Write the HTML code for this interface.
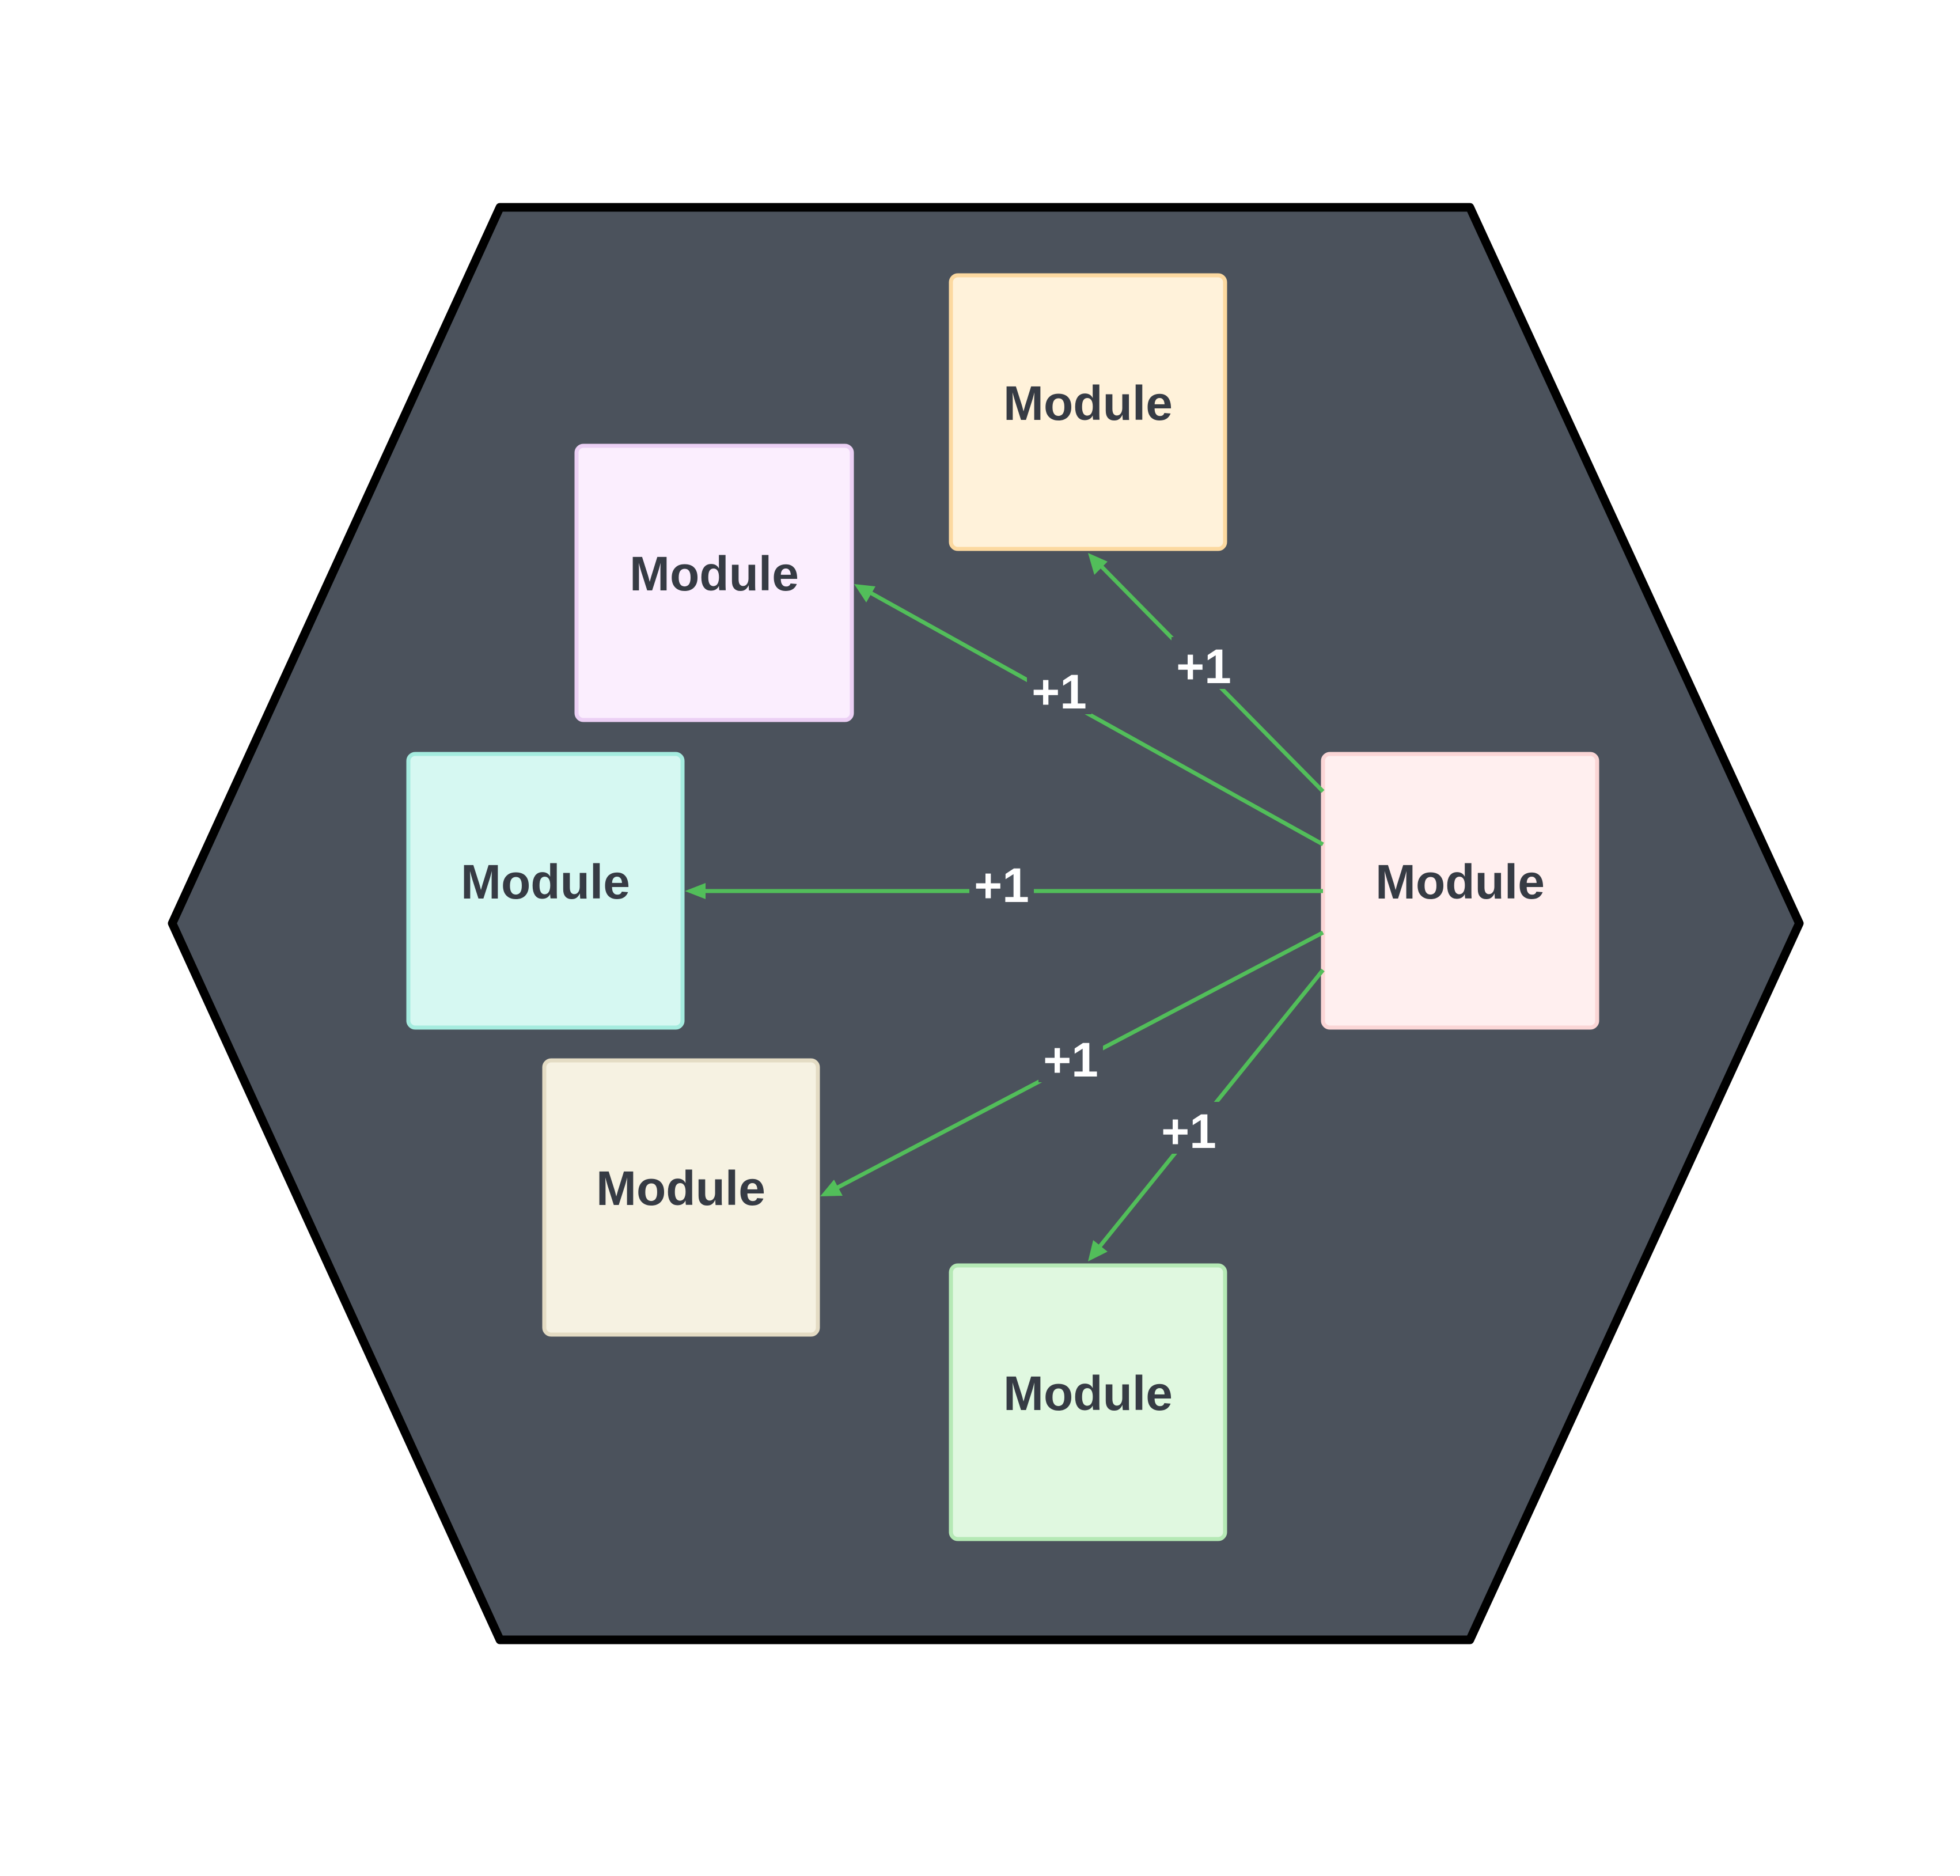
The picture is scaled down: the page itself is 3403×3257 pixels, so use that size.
<!DOCTYPE html>
<html><head><meta charset="utf-8"><style>html,body{margin:0;padding:0;background:#fff}svg{display:block}</style></head>
<body>
<svg width="3403" height="3257" viewBox="0 0 3403 3257" xmlns="http://www.w3.org/2000/svg">
<polygon points="299,1603 868,360 2552,360 3124,1603 2552,2847 868,2847" fill="#4b525c" stroke="#000" stroke-width="15" stroke-linejoin="round"/>
<g font-family="Liberation Sans, sans-serif" font-weight="bold" font-size="84" fill="#363b44" text-anchor="middle">
<rect x="1651" y="478" width="476" height="475" rx="12" fill="#fff2da" stroke="#fcd9a0" stroke-width="7"/>
<text x="1889" y="729">Module</text>
<rect x="1001" y="774" width="478" height="476" rx="12" fill="#fbeefe" stroke="#ecd0f5" stroke-width="7"/>
<text x="1240" y="1025">Module</text>
<rect x="709" y="1309" width="476" height="475" rx="12" fill="#d6f8f2" stroke="#a5ecdf" stroke-width="7"/>
<text x="947" y="1560">Module</text>
<rect x="945" y="1841" width="475" height="476" rx="12" fill="#f6f2e2" stroke="#e4dcc4" stroke-width="7"/>
<text x="1182" y="2092">Module</text>
<rect x="1651" y="2197" width="476" height="475" rx="12" fill="#e0f8e0" stroke="#b5e9b5" stroke-width="7"/>
<text x="1889" y="2448">Module</text>
<rect x="2297" y="1309" width="476" height="475" rx="12" fill="#ffefef" stroke="#fbd6d6" stroke-width="7"/>
<text x="2535" y="1560">Module</text>
</g>
<g stroke="#52be5a" stroke-width="7" fill="none">
<line x1="2297" y1="1374" x2="1905" y2="976"/>
<line x1="2297" y1="1466" x2="1502" y2="1024"/>
<line x1="2297" y1="1547" x2="1210" y2="1547"/>
<line x1="2297" y1="1619" x2="1444" y2="2067"/>
<line x1="2297" y1="1684" x2="1903" y2="2172"/>
</g>
<g fill="#52be5a">
<polygon points="1889,960 1923,975 1900,998"/>
<polygon points="1483,1014 1520,1018 1504,1046"/>
<polygon points="1189,1547 1225,1533 1225,1561"/>
<polygon points="1424,2077 1448,2048 1463,2076"/>
<polygon points="1889,2190 1898,2153 1923,2173"/>
</g>
<g font-family="Liberation Sans, sans-serif" font-weight="bold" font-size="84" fill="#fff" text-anchor="middle">
<rect x="2034" y="1106" width="112" height="90" fill="#4b525c"/><text x="2090" y="1186">+1</text>
<rect x="1783" y="1150" width="112" height="90" fill="#4b525c"/><text x="1839" y="1230">+1</text>
<rect x="1683" y="1505" width="112" height="80" fill="#4b525c"/><text x="1739" y="1566">+1</text>
<rect x="1803" y="1789" width="112" height="90" fill="#4b525c"/><text x="1859" y="1869">+1</text>
<rect x="2008" y="1913" width="112" height="90" fill="#4b525c"/><text x="2064" y="1993">+1</text>
</g>
</svg>
</body></html>
